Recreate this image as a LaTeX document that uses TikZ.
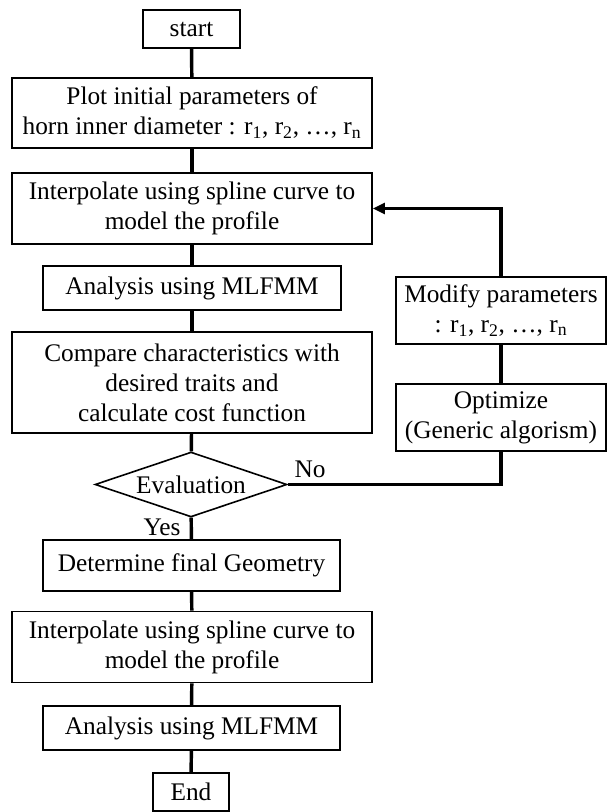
\documentclass[tikz,border=0pt]{standalone}
\usepackage{fontspec}
\setmainfont{Liberation Serif}
\usetikzlibrary{shapes.geometric,arrows.meta}
\newcommand{\rsub}[1]{r\textsubscript{#1}}
\begin{document}
\begin{tikzpicture}[x=.75pt, y=-.75pt, >={Triangle[length=9pt,width=8pt]},
	font=\fontsize{19}{22.5}\selectfont,
	box/.style={draw, line width=1.2pt, align=center, inner sep=2pt},
	decision/.style={draw, diamond, line width=1.2pt, inner sep=0pt, aspect=2.95,
		minimum width=144pt, minimum height=48.75pt},
	link/.style={line width=2.6pt}]
	\useasboundingbox (0,0) rectangle (608,812);
	% main column
	\node[box, minimum width=72.75pt, minimum height=28.5pt] (start) at (191.5,29) {start};
	\node[box, minimum width=270pt, minimum height=52.5pt] (plot) at (192,113)
		{Plot initial parameters of\\horn inner diameter : \rsub{1}, \rsub{2}, \dots, \rsub{n}};
	\node[box, minimum width=270pt, minimum height=53.25pt] (interpA) at (192,208.5)
		{Interpolate using spline curve to\\model the profile};
	\node[box, minimum width=223.5pt, minimum height=33pt] (anaA) at (192,288) {Analysis using MLFMM};
	\node[box, minimum width=270pt, minimum height=75.75pt] (comp) at (192,382.5)
		{Compare characteristics with\\desired traits and\\calculate cost function};
	\node[decision] (eval) at (191,484.5) {Evaluation};
	\node[box, minimum width=222.75pt, minimum height=38.25pt] (det) at (191.5,565.5) {Determine final Geometry};
	\node[box, minimum width=270pt, minimum height=53.25pt] (interpB) at (192,647)
		{Interpolate using spline curve to\\model the profile};
	\node[box, minimum width=222.75pt, minimum height=33pt] (anaB) at (191.5,728) {Analysis using MLFMM};
	\node[box, minimum width=57pt, minimum height=28.5pt] (end) at (191,792) {End};
	% loop column
	\node[box, minimum width=157.5pt, minimum height=50.25pt] (modify) at (501,310.5)
		{Modify parameters\\: \rsub{1}, \rsub{2}, \dots, \rsub{n}};
	\node[box, minimum width=157.5pt, minimum height=50.25pt] (optim) at (501,417.5)
		{Optimize\\(Generic algorism)};
	% labels
	\node (lblno) at (310,469) {No};
	\node (lblyes) at (162,527) {Yes};
	% connectors
	\foreach \a/\b in {start/plot, plot/interpA, interpA/anaA, anaA/comp, comp/eval,
		eval/det, det/interpB, interpB/anaB, anaB/end}{
		\draw[link] (\a)--(\b);}
	\draw[link] (eval.east) -| (optim.south);
	\draw[link] (optim)--(modify);
	\draw[link,->] (modify.north) |- (interpA.east);
\end{tikzpicture}
\end{document}
